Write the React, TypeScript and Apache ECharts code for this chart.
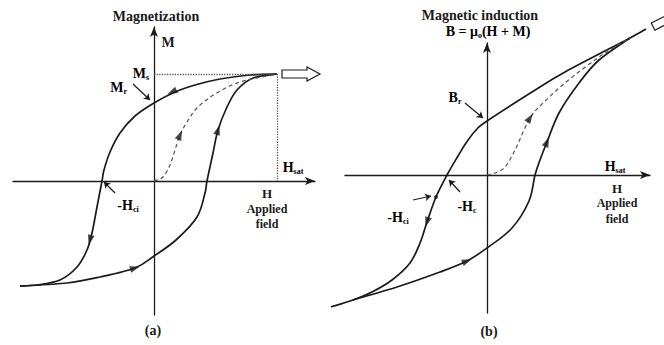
import { useEffect, useRef } from 'react';
import * as echarts from 'echarts';

// ---------- Panel (a): M vs H (arbitrary units) ----------
const aUpperBranch = [[1.23,1.07],[0.96,1.06],[0.66,1.02],[0.41,0.96],[0.21,0.89],[0,0.78],[-0.19,0.65],[-0.34,0.48],[-0.44,0.29],[-0.50,0.11],[-0.52,0],[-0.57,-0.26],[-0.62,-0.52],[-0.67,-0.69],[-0.77,-0.86],[-0.94,-0.99],[-1.17,-1.04],[-1.34,-1.05]];
const aLowerBranch = [[-1.34,-1.05],[-0.87,-1.02],[-0.54,-0.96],[-0.19,-0.87],[0,-0.75],[0.22,-0.59],[0.43,-0.36],[0.51,-0.12],[0.53,0],[0.59,0.28],[0.64,0.51],[0.73,0.74],[0.83,0.91],[0.99,1.03],[1.23,1.07]];
const aInitialCurve = [[0,0],[0.09,0.04],[0.16,0.16],[0.21,0.31],[0.26,0.46],[0.33,0.59],[0.43,0.73],[0.61,0.87],[0.86,0.99],[1.23,1.07]];
const aDirectionArrows = [[0.18,0.89,115],[0.26,0.46,-24],[0.64,0.51,-17],[-0.64,-0.59,165],[-0.19,-0.87,-72]];
const aMs = 1.07;
const aHsat = 1.23;
const aMrPointer = [[-0.21,0.97],[-0.04,0.81]];
const aHciPointer = [[-0.39,-0.12],[-0.50,-0.01]];
const aOutArrow = [[1.47,1.07,0]];

// ---------- Panel (b): B vs H ----------
const bUpperBranch = [[1.59,1.46],[1.43,1.37],[0.78,1.03],[0.45,0.83],[0,0.54],[-0.11,0.45],[-0.21,0.32],[-0.29,0.19],[-0.40,0],[-0.51,-0.22],[-0.60,-0.47],[-0.67,-0.68],[-0.77,-0.88],[-0.95,-1.05],[-1.15,-1.17],[-1.34,-1.25],[-1.56,-1.32]];
const bLowerBranch = [[-1.34,-1.25],[-0.90,-1.12],[-0.47,-0.97],[-0.20,-0.86],[0,-0.73],[0.25,-0.53],[0.42,-0.26],[0.48,0],[0.53,0.15],[0.60,0.33],[0.72,0.62],[0.92,0.92],[1.12,1.15],[1.43,1.37]];
const bInitialCurve = [[0,0],[0.08,0.02],[0.18,0.08],[0.28,0.25],[0.37,0.45],[0.43,0.57],[0.52,0.68],[0.78,0.92],[1.12,1.18],[1.43,1.37]];
const bDirectionArrows = [[0.43,0.57,-33],[0.60,0.33,-22],[-0.60,-0.47,162],[-0.20,-0.86,-68]];
const bHsat = 1.43;
const bBsat = 1.37;
const bBrPointer = [[-0.22,0.72],[-0.04,0.57]];
const bHcPointer = [[-0.27,-0.17],[-0.38,-0.05]];
const bHciPointer = [[-0.74,-0.25],[-0.56,-0.21]];
const bHciPoint = [-0.51,-0.22];
const bOutArrow = [[1.83,1.57,27]];

const INK = '#1a1a1a';
const SERIF = '"Liberation Serif", "DejaVu Serif", "Times New Roman", serif';

function axis(min: number, max: number) {
  return {
    type: 'value', min, max,
    axisLine: { show: true, onZero: true, symbol: ['none', 'arrow'], symbolSize: [6, 10], lineStyle: { color: INK, width: 1.3 } },
    axisTick: { show: false }, axisLabel: { show: false }, splitLine: { show: false },
  };
}

// Catmull-Rom spline through pixel points (rendering only)
function splinePath(pts: number[][]) {
  let d = `M${pts[0][0]},${pts[0][1]}`;
  for (let i = 0; i < pts.length - 1; i++) {
    const p0 = pts[i - 1] || pts[i];
    const p1 = pts[i];
    const p2 = pts[i + 1];
    const p3 = pts[i + 2] || p2;
    const t = 1 / 6;
    const c1x = p1[0] + (p2[0] - p0[0]) * t, c1y = p1[1] + (p2[1] - p0[1]) * t;
    const c2x = p2[0] - (p3[0] - p1[0]) * t, c2y = p2[1] - (p3[1] - p1[1]) * t;
    d += ` C${c1x},${c1y} ${c2x},${c2y} ${p2[0]},${p2[1]}`;
  }
  return d;
}

function curve(data: number[][], idx: number, dashed = false) {
  return {
    type: 'custom', data, xAxisIndex: idx, yAxisIndex: idx, silent: true, clip: false,
    renderItem: (params: any, api: any) => {
      if (params.dataIndex !== 0) return null;
      const pts = data.map((p) => api.coord(p));
      return {
        type: 'path',
        shape: { pathData: splinePath(pts) },
        style: dashed
          ? { fill: 'none', stroke: '#555', lineWidth: 1.2, lineDash: [4, 3] }
          : { fill: 'none', stroke: INK, lineWidth: 1.7 },
      };
    },
  };
}

function openArrow(data: number[][], idx: number) {
  return {
    type: 'custom', data, xAxisIndex: idx, yAxisIndex: idx, silent: true, clip: false,
    renderItem: (params: any, api: any) => {
      const c = api.coord([api.value(0), api.value(1)]);
      return {
        type: 'polygon', x: c[0], y: c[1], rotation: (api.value(2) * Math.PI) / 180,
        shape: { points: [[-19, -4], [6, -4], [6, -7], [19, 0], [6, 7], [6, 4], [-19, 4]] },
        style: { fill: '#ffffff', stroke: INK, lineWidth: 1.2 },
      };
    },
  };
}

function arrows(list: number[][], idx: number) {
  return {
    type: 'scatter', xAxisIndex: idx, yAxisIndex: idx, silent: true, clip: false,
    symbol: 'triangle', symbolSize: [7, 10], itemStyle: { color: INK },
    data: list.map(([x, y, r]) => ({ value: [x, y], symbolRotate: r })),
  };
}

const dotted = { type: 'dotted', color: '#555', width: 1.3 };
function pointer(p: number[][], curveness = 0) {
  return [
    { coord: p[0], symbol: 'none', lineStyle: { type: 'solid', color: INK, width: 1.2, curveness } },
    { coord: p[1], symbol: 'arrow', symbolSize: 6 },
  ];
}
function marks(lines: any[], idx: number) {
  return {
    type: 'line', xAxisIndex: idx, yAxisIndex: idx, data: [], silent: true,
    markLine: { silent: true, symbol: ['none', 'none'], label: { show: false }, animation: false, data: lines },
  };
}

const rich = {
  b: { fontFamily: SERIF, fontWeight: 'bold', fontSize: 14, color: INK, lineHeight: 17 },
  s: { fontFamily: SERIF, fontWeight: 'bold', fontSize: 8, color: INK, verticalAlign: 'bottom', lineHeight: 9 },
};

function txt(x: number, y: number, text: string, size = 13, align = 'center') {
  return {
    type: 'text', x, y, silent: true,
    style: { text, fill: INK, font: `bold ${size}px ${SERIF}`, textAlign: align, textVerticalAlign: 'middle' },
  };
}
function rtxt(x: number, y: number, text: string, align = 'center') {
  return {
    type: 'text', x, y, silent: true,
    style: { text, rich, textAlign: align, textVerticalAlign: 'middle' },
  };
}

const option: any = {
  animation: false,
  backgroundColor: '#ffffff',
  grid: [
    { left: 13, right: 349, top: 27, bottom: 30 },
    { left: 345, right: 14, top: 43, bottom: 32 },
  ],
  xAxis: [{ ...axis(-1.41, 1.61), gridIndex: 0 }, { ...axis(-1.42, 1.63), gridIndex: 1 }],
  yAxis: [{ ...axis(-1.34, 1.54), gridIndex: 0 }, { ...axis(-1.38, 1.32), gridIndex: 1 }],
  series: [
    curve(aUpperBranch, 0),
    curve(aLowerBranch, 0),
    curve(aInitialCurve, 0, true),
    arrows(aDirectionArrows, 0),
    openArrow(aOutArrow, 0),
    marks([
      [{ coord: [0, aMs], lineStyle: dotted }, { coord: [aHsat, aMs] }],
      [{ coord: [aHsat, aMs], lineStyle: dotted }, { coord: [aHsat, 0] }],
      pointer(aMrPointer, 0.4),
      pointer(aHciPointer),
    ], 0),
    curve(bUpperBranch, 1),
    curve(bLowerBranch, 1),
    curve(bInitialCurve, 1, true),
    arrows(bDirectionArrows, 1),
    openArrow(bOutArrow, 1),
    marks([
      [{ coord: [bHsat, bBsat], lineStyle: dotted }, { coord: [bHsat, 0] }],
      pointer(bBrPointer, 0.4),
      pointer(bHcPointer),
      pointer(bHciPointer),
    ], 1),
    {
      type: 'scatter', xAxisIndex: 1, yAxisIndex: 1, silent: true, symbol: 'circle', symbolSize: 4,
      itemStyle: { color: INK }, data: [bHciPoint],
    },
  ],
  graphic: [
    txt(156, 16, 'Magnetization', 14),
    txt(168, 42, 'M', 14),
    rtxt(149, 73, '{b|M}{s|s}', 'right'),
    rtxt(127, 87, '{b|M}{s|r}', 'right'),
    rtxt(128, 205, '{b|-H}{s|ci}'),
    rtxt(293, 167, '{b|H}{s|sat}'),
    txt(267, 193, 'H', 13),
    txt(267, 209, 'Applied', 12),
    txt(267, 224, 'field', 12),
    txt(153, 330, '(a)', 14),
    txt(480, 15, 'Magnetic induction', 14),
    rtxt(488, 31, '{b|B = μ}{s|o}{b|(H + M)}'),
    rtxt(455, 97, '{b|B}{s|r}'),
    rtxt(467, 206, '{b|-H}{s|c}'),
    rtxt(398, 217, '{b|-H}{s|ci}'),
    rtxt(615, 166, '{b|H}{s|sat}'),
    txt(617, 188, 'H', 13),
    txt(617, 203, 'Applied', 12),
    txt(617, 219, 'field', 12),
    txt(489, 331, '(b)', 14),
  ],
};

export default function App() {
  const ref = useRef<HTMLDivElement>(null);
  useEffect(() => {
    const chart = echarts.init(ref.current!, undefined, { renderer: 'svg' });
    chart.setOption(option);
    return () => chart.dispose();
  }, []);
  return <div ref={ref} style={{ width: 664, height: 345, position: 'absolute', left: 0, top: 0 }} />;
}
